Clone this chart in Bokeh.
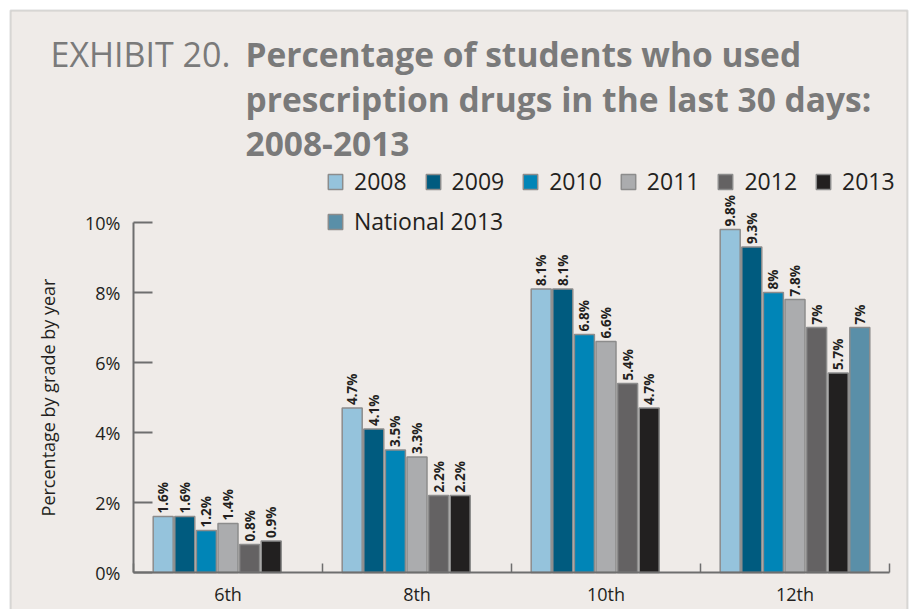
import numpy as np
from bokeh.plotting import figure
from bokeh.models import (ColumnDataSource, Range1d, LinearAxis,
                          FixedTicker, PrintfTickFormatter, Legend, LegendItem, Label,
                          BoxAnnotation, Grid)
from bokeh.core.properties import value
from bokeh.embed import file_html
from bokeh.resources import INLINE

# ---- data ----
grades = ["6th", "8th", "10th", "12th"]
v2008 = [1.6, 4.7, 8.1, 9.8]
v2009 = [1.6, 4.1, 8.1, 9.3]
v2010 = [1.2, 3.5, 6.8, 8.0]
v2011 = [1.4, 3.3, 6.6, 7.8]
v2012 = [0.8, 2.2, 5.4, 7.0]
v2013 = [0.9, 2.2, 4.7, 5.7]
national_grades = ["12th"]
national_2013 = [7.0]
series_names = ["2008", "2009", "2010", "2011", "2012", "2013", "National 2013"]
series_colors = ["#95c3dc", "#005b7f", "#0085b7", "#abacae", "#646263", "#222020", "#5a8fa8"]
yticks = [0, 2, 4, 6, 8, 10]

title_lead = "EXHIBIT 20."
title_lines = ["Percentage of students who used",
               "prescription drugs in the last 30 days:",
               "2008-2013"]
y_label = "Percentage by grade by year"

FONT = "Open Sans"
TXT = "#231f20"
AX = "#6e6e6e"
n = len(grades)

# ---- layout constants (pixels) ----
W, H = 909, 609
X0, X1 = 133, 889        # plot area left / right
Y0 = 572                 # baseline (0 %) from top
PX_PER_PCT = 35.0
gpx = (X1 - X0) / n

p = figure(width=W, height=H,
           x_range=Range1d(-X0 / gpx, (W - X0) / gpx),
           y_range=Range1d(-(H - Y0) / PX_PER_PCT, Y0 / PX_PER_PCT),
           output_backend="svg", toolbar_location=None,
           x_axis_location=None, y_axis_location=None,
           min_border=0, min_border_left=0, min_border_right=0,
           min_border_top=0, min_border_bottom=0,
           background_fill_color="white", border_fill_color="white",
           outline_line_color=None)
for g in p.select(type=Grid):
    g.visible = False

# panel box with border
p.add_layout(BoxAnnotation(left=10, right=907, top=H - 10, bottom=-60,
                           left_units="screen", right_units="screen",
                           top_units="screen", bottom_units="screen",
                           fill_color="#efebe8", fill_alpha=1.0,
                           line_color="#8e8e8e", line_width=2, level="underlay"))

# axes
yax = LinearAxis(ticker=FixedTicker(ticks=yticks), formatter=PrintfTickFormatter(format="%d%%"),
                 bounds=(0, 10), fixed_location=0, axis_label=y_label,
                 axis_label_text_font=FONT, axis_label_text_font_style="normal",
                 axis_label_text_font_size="18px", axis_label_text_color=TXT,
                 axis_label_standoff=22,
                 major_label_text_font=FONT, major_label_text_font_size="18px",
                 major_label_text_color=TXT, major_label_standoff=13,
                 axis_line_color=AX, axis_line_width=2,
                 major_tick_line_color=AX, major_tick_line_width=2,
                 major_tick_in=19, major_tick_out=0, minor_tick_line_color=None)
p.add_layout(yax, "left")

centres = [i + 0.5 for i in range(n)]
xax = LinearAxis(ticker=FixedTicker(ticks=centres, minor_ticks=list(range(n + 1))),
                 major_label_overrides={c: g for c, g in zip(centres, grades)},
                 bounds=(0, n), fixed_location=0,
                 axis_line_color=AX, axis_line_width=2,
                 major_tick_line_color=None,
                 minor_tick_line_color=AX, minor_tick_line_width=1.5,
                 minor_tick_in=9, minor_tick_out=0,
                 major_label_standoff=3, major_label_text_font=FONT,
                 major_label_text_font_size="18px", major_label_text_color=TXT)
p.add_layout(xax, "below")

# bars
step = 0.1143
bw = 0.1058
all_vals = [v2008, v2009, v2010, v2011, v2012, v2013, national_2013]
all_grades = [grades] * 6 + [national_grades]
renderers = []
for i, (name, vals, gr, col) in enumerate(zip(series_names, all_vals, all_grades, series_colors)):
    xpos = [grades.index(g) + 0.5 + (i - 3) * step for g in gr]
    src = ColumnDataSource(dict(x=xpos, val=vals, lab=[f"{v:g}%" for v in vals]))
    r = p.vbar(x="x", top="val", width=bw, source=src, fill_color=col,
               line_color="#8c8c8c", line_width=1.5)
    p.text(x="x", y="val", text="lab", source=src, angle=np.pi / 2,
           text_align="left", text_baseline="middle", y_offset=-3,
           text_font=value(FONT), text_font_style="bold", text_font_size="13.5px",
           text_color=TXT)
    renderers.append(r)

def make_legend(items, loc):
    return Legend(items=items, location=loc, orientation="horizontal",
                  background_fill_alpha=0, border_line_color=None,
                  padding=0, margin=0, spacing=17, label_standoff=10,
                  glyph_width=18, glyph_height=19, label_height=19,
                  label_text_font=FONT, label_text_font_size="23px",
                  label_text_color=TXT)

leg1 = make_legend([LegendItem(label=nm, renderers=[r]) for nm, r in zip(series_names[:6], renderers[:6])],
                   (326, H - 197))
leg2 = make_legend([LegendItem(label=series_names[6], renderers=[renderers[6]])], (326, H - 237))
p.add_layout(leg1, "center")
p.add_layout(leg2, "center")

# title
TB = 53   # first title line position from top
p.add_layout(Label(x=50, y=H - TB, x_units="screen", y_units="screen", text=title_lead,
                   text_font=FONT, text_font_size="34px", text_color="#7a7a7a",
                   text_baseline="alphabetic"))
for k, line in enumerate(title_lines):
    p.add_layout(Label(x=245, y=H - (TB + 45 * k), x_units="screen", y_units="screen",
                       text=line, text_font=FONT, text_font_style="bold",
                       text_font_size="33.5px", text_color="#7a7a7a",
                       text_baseline="alphabetic"))

open("out.html", "w").write(file_html(p, INLINE))
